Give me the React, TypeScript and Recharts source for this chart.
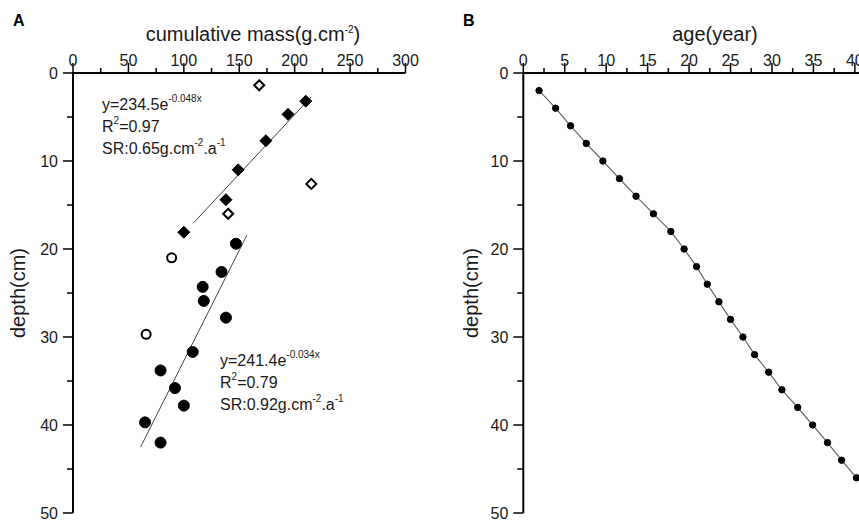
import React from 'react';
import { ScatterChart, Scatter, XAxis, YAxis, Customized } from 'recharts';

// panel A: cumulative mass (g.cm-2) vs depth (cm)
const openDiamonds = [
  { m: 168, d: 1.4 },
  { m: 215, d: 12.6 },
  { m: 140, d: 16.0 },
];
const filledDiamonds = [
  { m: 210, d: 3.2 },
  { m: 194, d: 4.7 },
  { m: 174, d: 7.7 },
  { m: 149, d: 11.0 },
  { m: 138, d: 14.4 },
  { m: 100, d: 18.1 },
];
const openCircles = [
  { m: 89, d: 21.0 },
  { m: 66, d: 29.7 },
];
const filledCircles = [
  { m: 147, d: 19.4 },
  { m: 134, d: 22.6 },
  { m: 117, d: 24.3 },
  { m: 118, d: 25.9 },
  { m: 138, d: 27.8 },
  { m: 108, d: 31.7 },
  { m: 79, d: 33.8 },
  { m: 92, d: 35.8 },
  { m: 100, d: 37.8 },
  { m: 65, d: 39.7 },
  { m: 79, d: 42.0 },
];
// fitted lines, end points as drawn
const fitUpper = [
  { m: 109, d: 17.0 },
  { m: 215, d: 2.7 },
];
const fitLower = [
  { m: 157, d: 18.4 },
  { m: 61, d: 42.5 },
];
const massTicks = [0, 25, 50, 75, 100, 125, 150, 175, 200, 225, 250, 275, 300];

// panel B: age (year) vs depth (cm)
const ageDepths = [2, 4, 6, 8, 10, 12, 14, 16, 18, 20, 22, 24, 26, 28, 30, 32, 34, 36, 38, 40, 42, 44, 46];
const ages = [1.9, 3.9, 5.7, 7.6, 9.6, 11.6, 13.6, 15.7, 17.8, 19.4, 20.9, 22.2, 23.6, 25.0, 26.5, 27.9, 29.6, 31.2, 33.1, 34.9, 36.7, 38.4, 40.2];
const ageTicks = [0, 2.5, 5, 7.5, 10, 12.5, 15, 17.5, 20, 22.5, 25, 27.5, 30, 32.5, 35, 37.5, 40];

const depthTicks = [0, 5, 10, 15, 20, 25, 30, 35, 40, 45, 50];

const ageData = ages.map((a, i) => ({ a, d: ageDepths[i] }));

const FONT = 'Arial, "Liberation Sans", Helvetica, sans-serif';
const INK = '#1a1a1a';

const topTick = (step: number) => (props: any) => {
  const { x, y, payload } = props;
  const major = payload.value % step === 0;
  return (
    <g>
      <line x1={x} y1={y} x2={x} y2={y - (major ? 10 : 5)} stroke="#000" strokeWidth={1.5} />
      {major && (
        <text x={x} y={y - 7} textAnchor="middle" fontSize={16} fontFamily={FONT} fill={INK}>
          {payload.value}
        </text>
      )}
    </g>
  );
};

const leftTick = (props: any) => {
  const { x, y, payload } = props;
  const major = payload.value % 10 === 0;
  return (
    <g>
      <line x1={x} y1={y} x2={x - (major ? 10 : 6)} y2={y} stroke="#000" strokeWidth={1.5} />
      {major && (
        <text x={x - 15} y={y} dy="0.36em" textAnchor="end" fontSize={16} fontFamily={FONT} fill={INK}>
          {payload.value}
        </text>
      )}
    </g>
  );
};

const diamond = (filled: boolean) => (props: any) => {
  const { cx, cy } = props;
  const r = filled ? 6 : 5;
  return (
    <path
      d={`M${cx},${cy - r}L${cx + r},${cy}L${cx},${cy + r}L${cx - r},${cy}Z`}
      fill={filled ? '#000' : '#fff'}
      stroke="#000"
      strokeWidth={filled ? 1 : 2}
    />
  );
};

const circle = (filled: boolean, r: number) => (props: any) => {
  const { cx, cy } = props;
  return <circle cx={cx} cy={cy} r={r} fill={filled ? '#000' : '#fff'} stroke="#000" strokeWidth={filled ? 1 : 2} />;
};

const noShape = () => <g />;

// superscript piece, then drop back to the baseline for the text after it
const Sup = ({ t }: { t: string }) => <tspan fontSize={10} dy={-8}>{t}</tspan>;
const Back = ({ t }: { t: string }) => <tspan dy={8}>{t}</tspan>;

function FitNote({ x, y, a, k, r2, sr }: { x: number; y: number; a: string; k: string; r2: string; sr: string }) {
  return (
    <g fontFamily={FONT} fontSize={16} fill={INK}>
      <text x={x} y={y}>
        <tspan>y={a}e</tspan>
        <Sup t={k} />
      </text>
      <text x={x} y={y + 22}>
        <tspan>R</tspan>
        <Sup t="2" />
        <Back t={`=${r2}`} />
      </text>
      <text x={x} y={y + 44}>
        <tspan>SR:{sr}g.cm</tspan>
        <Sup t="-2" />
        <Back t=".a" />
        <Sup t="-1" />
      </text>
    </g>
  );
}

function NotesA() {
  return (
    <g>
      <text x={13} y={26} fontSize={16} fontWeight="bold" fontFamily={FONT} fill="#000">A</text>
      <text x={253} y={41} textAnchor="middle" fontSize={20} fontFamily={FONT} fill={INK}>
        <tspan>cumulative mass(g.cm</tspan>
        <Sup t="-2" />
        <Back t=")" />
      </text>
      <text x={25} y={293} transform="rotate(-90, 25, 293)" textAnchor="middle" fontSize={20} fontFamily={FONT} fill={INK}>
        depth(cm)
      </text>
      <FitNote x={102} y={110} a="234.5" k="-0.048x" r2="0.97" sr="0.65" />
      <FitNote x={220} y={366} a="241.4" k="-0.034x" r2="0.79" sr="0.92" />
    </g>
  );
}

function NotesB() {
  return (
    <g>
      <text x={33} y={26} fontSize={16} fontWeight="bold" fontFamily={FONT} fill="#000">B</text>
      <text x={285} y={41} textAnchor="middle" fontSize={20} fontFamily={FONT} fill={INK}>
        age(year)
      </text>
      <text x={48} y={293} transform="rotate(-90, 48, 293)" textAnchor="middle" fontSize={20} fontFamily={FONT} fill={INK}>
        depth(cm)
      </text>
    </g>
  );
}

const axisLine = { stroke: '#000', strokeWidth: 2 };

export default function App() {
  return (
    <div style={{ position: 'absolute', left: 0, top: 0, width: 859, height: 522, background: '#fff', overflow: 'hidden' }}>
      <div style={{ position: 'absolute', left: 0, top: 0 }}>
        <ScatterChart width={430} height={522} margin={{ top: 0, right: 24.5, bottom: 9, left: 0 }}>
          <XAxis
            type="number"
            dataKey="m"
            orientation="top"
            domain={[0, 300]}
            ticks={massTicks}
            interval={0}
            height={73}
            axisLine={axisLine}
            tickLine={false}
            tickSize={0}
            tickMargin={0}
            tick={topTick(50)}
          />
          <YAxis
            type="number"
            dataKey="d"
            reversed
            domain={[0, 50]}
            ticks={depthTicks}
            interval={0}
            width={73}
            axisLine={axisLine}
            tickLine={false}
            tickSize={0}
            tickMargin={0}
            tick={leftTick}
          />
          <Scatter data={fitUpper} line={{ stroke: '#444', strokeWidth: 1 }} shape={noShape} isAnimationActive={false} />
          <Scatter data={fitLower} line={{ stroke: '#444', strokeWidth: 1 }} shape={noShape} isAnimationActive={false} />
          <Scatter data={openDiamonds} shape={diamond(false)} isAnimationActive={false} />
          <Scatter data={filledDiamonds} shape={diamond(true)} isAnimationActive={false} />
          <Scatter data={openCircles} shape={circle(false, 4.5)} isAnimationActive={false} />
          <Scatter data={filledCircles} shape={circle(true, 5.5)} isAnimationActive={false} />
          <Customized component={<NotesA />} />
        </ScatterChart>
      </div>
      <div style={{ position: 'absolute', left: 430, top: 0 }}>
        <ScatterChart width={429} height={522} margin={{ top: 0, right: 0, bottom: 9, left: 0 }}>
          <XAxis
            type="number"
            dataKey="a"
            orientation="top"
            domain={[0, 40.5]}
            ticks={ageTicks}
            interval={0}
            height={73}
            axisLine={axisLine}
            tickLine={false}
            tickSize={0}
            tickMargin={0}
            tick={topTick(5)}
            allowDataOverflow
          />
          <YAxis
            type="number"
            dataKey="d"
            reversed
            domain={[0, 50]}
            ticks={depthTicks}
            interval={0}
            width={93.3}
            axisLine={axisLine}
            tickLine={false}
            tickSize={0}
            tickMargin={0}
            tick={leftTick}
          />
          <Scatter data={ageData} line={{ stroke: '#666', strokeWidth: 1.2 }} shape={circle(true, 3.2)} isAnimationActive={false} />
          <Customized component={<NotesB />} />
        </ScatterChart>
      </div>
    </div>
  );
}
